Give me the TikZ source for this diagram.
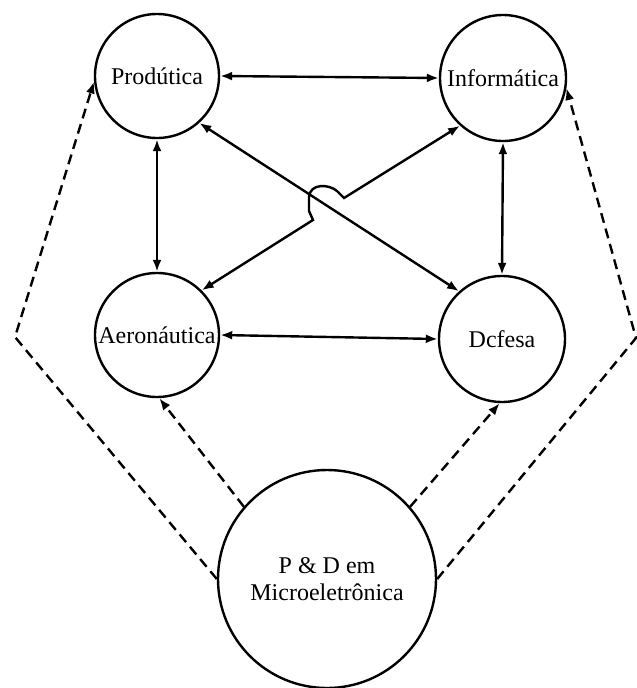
\documentclass[tikz,border=0pt]{standalone}
\usepackage{fontspec}
\setmainfont{Liberation Serif}
\usetikzlibrary{arrows.meta,calc}
\begin{document}
\begin{tikzpicture}[x=1pt,y=-1pt,
  area/.style={circle,draw,line width=2.4pt,inner sep=0pt,font=\fontsize{24}{27}\selectfont,align=center},
  link/.style={line width=2.4pt,{Latex[length=12pt,width=9pt]}-{Latex[length=12pt,width=9pt]}},
  feed/.style={line width=2.4pt,dash pattern=on 10pt off 6pt,-{Latex[length=12pt,width=9pt]}}]
\useasboundingbox (0,0) rectangle (637,688);
\node[area,minimum size=124pt] (prod) at (157,76) {Prodútica};
\node[area,minimum size=126pt] (info) at (503,78) {Informática};
\node[area,minimum size=124pt] (aero) at (157,335) {Aeronáutica};
\node[area,minimum size=126pt] (def) at (502,339) {Dcfesa};
\node[area,minimum size=218pt] (pd) at (327,579) {P \& D em\\Microeletrônica};
% solid links
\draw[link] (prod.east) -- (info.west);
\draw[link] (prod.south) -- (aero.north);
\draw[link] (info.south) -- (def.north);
\draw[link] (aero.east) -- (def.west);
\draw[link] (prod.-48) -- (def.132);
% crossing with hop
\coordinate (hopA) at (344,198);
\coordinate (hopB) at (313,220);
\draw[link]
  (info.228) -- (hopA) -- (337,191) .. controls (329,184) and (310,183) .. (309,197) -- (309,211) -- (hopB) -- (aero.45);
% dashed feeds
\coordinate (kl) at (15,337);
\coordinate (kr) at (636,338);
\draw[feed] (pd.180) -- (kl) -- (prod.185);
\draw[feed] (pd.0) -- (kr) -- (info.-9);
\draw[feed] (pd.139) -- (aero.-88);
\draw[feed] (pd.41) -- (def.-92);
\end{tikzpicture}
\end{document}
